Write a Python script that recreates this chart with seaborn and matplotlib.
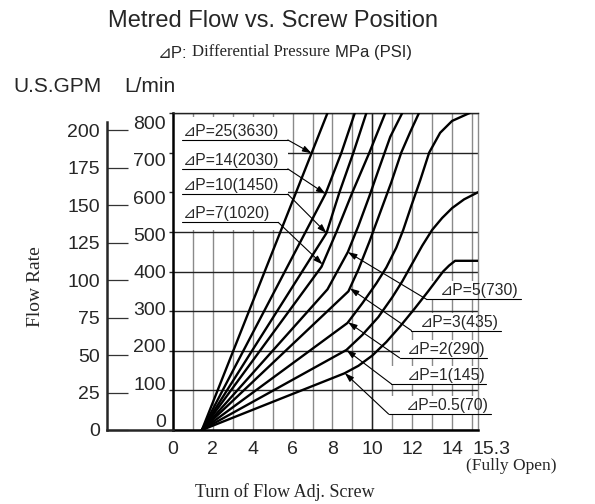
import numpy as np
import pandas as pd
import seaborn as sns
import matplotlib.pyplot as plt
from matplotlib.patches import Rectangle

# Curves: screw turns vs. metred flow (L/min) for each differential pressure
turn_25 = [1.45, 7.75]
flow_25 = [0, 800]
turn_14 = [1.45, 7.65, 8.45, 9.12]
flow_14 = [0, 596, 700, 800]
turn_10 = [1.45, 7.7, 8.35, 9.05, 9.7]
flow_10 = [0, 497, 600, 700, 800]
turn_7 = [1.45, 7.45, 8.2, 9.0, 9.85, 10.65]
flow_7 = [0, 412, 500, 600, 700, 800]
turn_5 = [1.45, 7.75, 8.77, 9.3, 9.85, 10.3, 10.9, 11.5]
flow_5 = [0, 355, 449, 515, 590, 655, 740, 800]
turn_3 = [1.45, 8.8, 9.3, 9.85, 10.4, 10.95, 11.45, 11.9, 12.34]
flow_3 = [0, 350, 405, 475, 550, 625, 700, 752, 800]
turn_2 = [1.45, 8.75, 9.5, 10.2, 10.7, 11.2, 11.55, 11.95, 12.4, 12.85, 13.4, 14.0, 14.88]
flow_2 = [0, 270, 320, 370, 410, 460, 505, 565, 630, 700, 750, 780, 800]
turn_1 = [1.45, 8.7, 9.5, 10.3, 11.0, 11.5, 12.0, 12.5, 13.0, 13.5, 14.0, 14.6, 15.3]
flow_1 = [0, 202, 240, 285, 335, 375, 420, 465, 505, 535, 560, 582, 600]
turn_05 = [1.45, 8.6, 9.3, 10.0, 10.7, 11.4, 12.1, 12.8, 13.55, 13.85, 14.15, 15.3]
flow_05 = [0, 143, 162, 188, 222, 262, 305, 350, 400, 415, 427, 427]

curve_names = ['25', '14', '10', '7', '5', '3', '2', '1', '0.5']
curve_turns = [turn_25, turn_14, turn_10, turn_7, turn_5, turn_3, turn_2, turn_1, turn_05]
curve_flows = [flow_25, flow_14, flow_10, flow_7, flow_5, flow_3, flow_2, flow_1, flow_05]
curve_labels = ['⊿P=25(3630)', '⊿P=14(2030)', '⊿P=10(1450)', '⊿P=7(1020)', '⊿P=5(730)',
                '⊿P=3(435)', '⊿P=2(290)', '⊿P=1(145)', '⊿P=0.5(70)']

lpm_ticks = [0, 100, 200, 300, 400, 500, 600, 700, 800]
gpm_ticks = [0, 25, 50, 75, 100, 125, 150, 175, 200]
turn_ticks = [0, 2, 4, 6, 8, 10, 12, 14]

df = pd.concat([pd.DataFrame({'turn': t, 'flow': f, 'dp': n})
                for n, t, f in zip(curve_names, curve_turns, curve_flows)], ignore_index=True)

sns.set_style('ticks')
SANS = ['Liberation Sans', 'DejaVu Sans']
SERIF = ['Liberation Serif', 'DejaVu Serif']
plt.rcParams['font.family'] = SANS
plt.rcParams['font.size'] = 14

fig = plt.figure(figsize=(5.95, 5.04), dpi=100)
ax = fig.add_axes([173 / 595, 74 / 504, 305 / 595, 317 / 504])
ax2 = fig.add_axes([106.7 / 595, 74 / 504, 66.3 / 595, 317 / 504])

# curves
sns.lineplot(data=df, x='turn', y='flow', units='dp', estimator=None, sort=False,
             color='black', lw=1.7, ax=ax, zorder=3)

ax.set_xlim(0, 15.3)
ax.set_ylim(0, 800)
ax.set_xlabel('')
ax.set_ylabel('')

# grid: one line per turn, one per 100 L/min
ax.set_xticks(range(0, 16))
ax.set_xticklabels([str(v) if v in turn_ticks else '' for v in range(0, 16)])
ax.set_yticks(lpm_ticks)
ax.set_yticklabels([])
ax.set_axisbelow(True)
ax.grid(axis='x', color='#8a8a8a', lw=1.0)
ax.grid(axis='y', color='#222222', lw=1.0)
ax.axvline(10, color='#222222', lw=1.0, zorder=0.6)
ax.tick_params(axis='x', length=0, pad=8, labelsize=14)
ax.tick_params(axis='y', which='major', length=3, width=1, direction='out')

# L/min labels sit slightly compressed between 0 and 800
ax.yaxis.remove_overlapping_locs = False
ax.set_yticks([400 + (v - 400) * 0.94 for v in lpm_ticks], minor=True)
ax.set_yticklabels([str(v) for v in lpm_ticks], minor=True)
ax.tick_params(axis='y', which='minor', length=0, pad=5, labelsize=14)

ax.annotate('15.3', xy=(15.3, 0), xytext=(-4, -8), textcoords='offset points',
            ha='left', va='top', fontsize=14, annotation_clip=False)

for side in ['left', 'bottom']:
    ax.spines[side].set_linewidth(1.8)
    ax.spines[side].set_color('black')
ax.spines['top'].set_linewidth(1.0)
ax.spines['top'].set_color('#222222')
ax.spines['right'].set_linewidth(1.0)
ax.spines['right'].set_color('#8a8a8a')

# white panel behind the upper-left labels
ax.add_patch(Rectangle((0, 504), 5.76, 286, facecolor='white', edgecolor='none', zorder=1))

arrow_kw = dict(arrowstyle='-|>,head_length=0.45,head_width=0.15', color='black', lw=0.8,
                shrinkA=0, shrinkB=0, mutation_scale=12)

# labels on the left: (underline y, underline end, arrow tip x)
left_layout = [(732, 5.76, 6.95), (659, 5.76, 7.65), (595, 5.76, 7.7), (524, 5.28, 7.5)]
for i, (uy, ux1, tipx) in enumerate(left_layout):
    tipy = np.interp(tipx, curve_turns[i], curve_flows[i])
    ax.plot([0.43, ux1], [uy, uy], color='black', lw=0.8, zorder=4)
    ax.text(0.49, uy + 10, curve_labels[i], ha='left', va='baseline', fontsize=11.3,
            family=SANS, zorder=4)
    ax.annotate('', xy=(tipx, tipy), xytext=(ux1, uy), arrowprops=arrow_kw, zorder=4)

# labels on the right: (underline y, underline start, underline end, text end, arrow tip x)
right_layout = [(330, 12.71, 17.47, 17.33, 8.77), (251, 11.96, 16.47, 16.33, 8.87),
                (182, 11.37, 15.74, 15.67, 8.78), (116, 10.96, 15.72, 15.67, 8.70),
                (40, 10.82, 15.97, 15.85, 8.62)]
for j, (uy, ux0, ux1, tx, tipx) in enumerate(right_layout):
    i = j + 4
    tipy = np.interp(tipx, curve_turns[i], curve_flows[i])
    ax.add_patch(Rectangle((ux0, uy), ux1 - ux0, 45, facecolor='white', edgecolor='none',
                           zorder=1, clip_on=False))
    ax.plot([ux0, ux1], [uy, uy], color='black', lw=0.8, zorder=4, clip_on=False)
    ax.text(tx, uy + 10, curve_labels[i], ha='right', va='baseline', fontsize=11.3,
            family=SANS, zorder=4, clip_on=False)
    ax.annotate('', xy=(tipx, tipy), xytext=(ux0, uy), arrowprops=arrow_kw, zorder=4,
                annotation_clip=False)

# U.S.GPM axis on the far left, same scale as L/min
ax2.set_ylim(0, 800)
ax2.set_xlim(0, 1)
ax2.set_xticks([])
ax2.set_yticks([g * 3.785 for g in gpm_ticks])
ax2.set_yticklabels([str(g) for g in gpm_ticks])
ax2.tick_params(axis='y', direction='in', length=15, width=0.9, color='#333333', pad=5,
                labelsize=14)
ax2.set_facecolor('none')
for side in ['top', 'right']:
    ax2.spines[side].set_visible(False)
ax2.spines['left'].set_linewidth(1.8)
ax2.spines['left'].set_bounds(0, 778)
ax2.spines['bottom'].set_linewidth(1.8)

# titles and axis texts
fig.text(272.5 / 595, 1 - 27.3 / 504, 'Metred Flow vs. Screw Position', ha='center',
         va='baseline', fontsize=17, family=SANS)
t1 = fig.text(158 / 595, 1 - 57.5 / 504, '⊿P:', ha='left', va='baseline', fontsize=12,
              family=SANS)
t2 = plt.annotate('Differential Pressure', xy=(1, 0), xycoords=t1, xytext=(3.5, 0),
                  textcoords='offset points', ha='left', va='bottom', fontsize=12,
                  family=SERIF, annotation_clip=False)
plt.annotate('MPa (PSI)', xy=(1, 0), xycoords=t2, xytext=(3.5, 0),
             textcoords='offset points', ha='left', va='bottom', fontsize=12,
             family=SANS, annotation_clip=False)

fig.text(57.5 / 595, 1 - 86.5 / 504, 'U.S.GPM', ha='center', va='center', fontsize=15,
         family=SANS)
fig.text(150 / 595, 1 - 86.5 / 504, 'L/min', ha='center', va='center', fontsize=15,
         family=SANS)
fig.text(36 / 595, 1 - 287 / 504, 'Flow Rate', ha='center', va='center', rotation=90,
         fontsize=14, family=SERIF)
fig.text(285 / 595, 1 - 492 / 504, 'Turn of Flow Adj. Screw', ha='center', va='center',
         fontsize=13, family=SERIF)
fig.text(511 / 595, 1 - 466 / 504, '(Fully Open)', ha='center', va='center',
         fontsize=12.5, family=SERIF)

plt.savefig('out.png', dpi=100)
plt.close()
